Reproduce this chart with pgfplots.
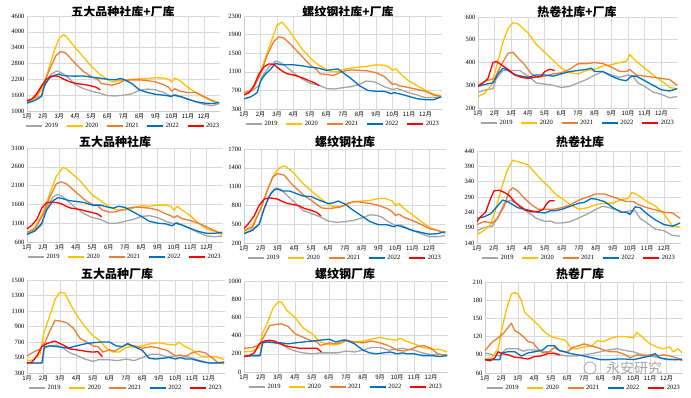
\documentclass[border=0pt]{standalone}
\usepackage{pgfplots}
\pgfplotsset{compat=1.18}
\usepackage{fontspec}
\setmainfont{Liberation Serif}
\newfontfamily\cjk{Noto Sans CJK SC}
\definecolor{c19}{HTML}{A5A5A5}
\definecolor{c20}{HTML}{FFC000}
\definecolor{c21}{HTML}{ED7D31}
\definecolor{c22}{HTML}{0070C0}
\definecolor{c23}{HTML}{FF0000}
\pgfplotsset{
  panel/.style={
    scale only axis, anchor=south west,
    xmin=1, xmax=13,
    xtick={1,...,12},
    xticklabels={1月,2月,3月,4月,5月,6月,7月,8月,9月,10月,11月,12月},
    xticklabel style={font=\cjk\fontsize{6}{7}\selectfont, yshift=1pt},
    yticklabel style={font=\fontsize{6.5}{7}\selectfont, xshift=1pt},
    /pgf/number format/assume math mode=true,
    /pgf/number format/1000 sep={},
    major tick length=0pt,
    grid=major,
    grid style={draw=black!15, line width=0.5pt},
    axis line style={draw=black!20},
    axis x line*=bottom, axis y line*=left,
    every axis plot/.append style={line width=1.3pt, line join=round, no marks},
    legend columns=5,
    legend style={at={(0.5,0)}, anchor=north, yshift=-10pt, draw=none, fill=none,
      font=\fontsize{6.5}{7}\selectfont, inner sep=0pt,
      /tikz/every even column/.append style={column sep=6pt}},
    legend image code/.code={\draw[##1, line width=1.3pt] (0pt,0pt) -- (16pt,0pt);},
  },
}
\begin{document}
\begin{tikzpicture}
\useasboundingbox (0pt,0pt) rectangle (691pt,398pt);
\tikzset{ttl/.style={font=\cjk\bfseries\fontsize{12}{14}\selectfont, inner sep=0pt}}
\node[ttl] at (123pt,386pt) {五大品种社库+厂库};
\node[ttl] at (348pt,386pt) {螺纹钢社库+厂库};
\node[ttl] at (577pt,386pt) {热卷社库+厂库};
\node[ttl] at (115pt,256pt) {五大品种社库};
\node[ttl] at (345pt,256pt) {螺纹钢社库};
\node[ttl] at (580pt,256pt) {热卷社库};
\node[ttl] at (117pt,124pt) {五大品种厂库};
\node[ttl] at (345pt,124pt) {螺纹钢厂库};
\node[ttl] at (580pt,124pt) {热卷厂库};

% ---------- P1 ----------
\begin{axis}[panel, at={(27pt,287pt)}, width=193pt, height=95pt, ymin=1000, ymax=4600, ytick={1000,1600,...,4600}]
\addplot[c19] coordinates {(1,1350)(1.5,1450)(1.9,1600)(2.1,1950)(2.5,2400)(2.87,2520)(3.2,2430)(3.6,2250)(4,2000)(4.5,1850)(5,1750)(5.5,1680)(6,1580)(6.5,1570)(7,1600)(7.5,1650)(8,1780)(8.5,1830)(9,1800)(9.5,1700)(9.9,1570)(10.2,1620)(10.6,1550)(11,1450)(11.5,1350)(12,1250)(12.5,1200)(12.95,1280)};
\addplot[c20] coordinates {(1,1300)(1.5,1450)(2,1900)(2.3,2500)(2.7,3300)(3,3750)(3.28,3900)(3.5,3780)(4,3400)(4.5,3050)(5,2700)(5.5,2400)(6,2200)(6.3,2100)(6.7,2150)(7,2180)(7.5,2200)(8,2220)(8.5,2230)(9,2260)(9.5,2250)(9.8,2200)(10,2100)(10.2,2250)(10.5,2150)(11,1900)(11.5,1700)(12,1520)(12.5,1380)(12.95,1300)};
\addplot[c21] coordinates {(1,1400)(1.5,1500)(2,2000)(2.5,2700)(2.8,3100)(3.1,3250)(3.4,3200)(3.7,3000)(4,2800)(4.5,2500)(5,2300)(5.4,2200)(5.6,2050)(6,2000)(6.3,1980)(6.7,2050)(7,2150)(7.5,2180)(8,2180)(8.5,2150)(9,2100)(9.5,2000)(9.8,1900)(10,1750)(10.2,1850)(10.5,1750)(11,1700)(11.5,1700)(12,1550)(12.5,1400)(12.95,1300)};
\addplot[c22] coordinates {(1,1300)(1.5,1400)(1.9,1550)(2.1,2000)(2.4,2250)(2.7,2350)(3,2400)(3.2,2350)(3.5,2330)(4,2320)(4.5,2330)(5,2280)(5.5,2250)(6,2200)(6.5,2180)(6.8,2230)(7,2200)(7.5,2050)(8,1800)(8.5,1700)(9,1630)(9.5,1600)(10,1550)(10.1,1600)(10.5,1550)(11,1450)(11.5,1350)(12,1300)(12.5,1280)(12.95,1320)};
\addplot[c23] coordinates {(1,1380)(1.3,1450)(1.6,1650)(1.9,1950)(2.2,2200)(2.5,2320)(2.8,2330)(3,2300)(3.3,2200)(3.6,2120)(4,2050)(4.3,2020)(4.6,2000)(5,1950)(5.3,1900)(5.56,1800)};
\legend{2019,2020,2021,2022,2023}
\end{axis}

% ---------- P2 ----------
\begin{axis}[panel, at={(244pt,289pt)}, width=198pt, height=93pt, ymin=300, ymax=2300, ytick={300,700,...,2300}]
\addplot[c19] coordinates {(1,600)(1.5,700)(1.9,800)(2.1,1000)(2.5,1200)(2.9,1330)(3.2,1300)(3.6,1200)(4,1080)(4.5,950)(5,850)(5.5,820)(6,740)(6.5,730)(7,760)(7.5,780)(8,830)(8.4,900)(8.8,890)(9,870)(9.5,780)(10,720)(10.3,740)(10.6,700)(11,650)(11.5,600)(12,540)(12.5,550)(12.95,560)};
\addplot[c20] coordinates {(1,600)(1.5,700)(2,1100)(2.3,1400)(2.7,1800)(3,2100)(3.3,2170)(3.6,2050)(4,1850)(4.5,1600)(5,1400)(5.5,1250)(6,1150)(6.3,1100)(6.7,1100)(7,1150)(7.5,1180)(8,1200)(8.5,1220)(9,1250)(9.5,1240)(9.8,1200)(10,1130)(10.2,1170)(10.5,1050)(11,900)(11.5,800)(12,700)(12.5,620)(12.95,580)};
\addplot[c21] coordinates {(1,650)(1.5,700)(2,1050)(2.4,1450)(2.8,1750)(3.1,1850)(3.4,1830)(3.8,1700)(4.2,1550)(4.6,1400)(5,1250)(5.4,1150)(5.6,1060)(6,1040)(6.4,1020)(6.8,1080)(7.2,1130)(7.6,1140)(8,1130)(8.5,1120)(9,1080)(9.5,1000)(9.8,900)(10,830)(10.2,840)(10.4,800)(11,760)(11.5,720)(12,680)(12.5,600)(12.95,570)};
\addplot[c22] coordinates {(1,520)(1.4,560)(1.8,650)(2,900)(2.3,1050)(2.6,1150)(2.9,1280)(3.3,1250)(4,1250)(4.5,1230)(5,1200)(5.5,1180)(6,1130)(6.4,1150)(6.7,1160)(7,1080)(7.5,950)(8,800)(8.5,700)(9,680)(9.5,680)(9.9,630)(10.1,650)(10.5,620)(11,570)(11.5,520)(12,500)(12.5,500)(12.95,560)};
\addplot[c23] coordinates {(1,600)(1.3,650)(1.6,800)(1.9,1050)(2.2,1200)(2.5,1270)(2.8,1260)(3,1200)(3.3,1120)(3.6,1060)(4,1030)(4.3,1000)(4.6,960)(5,900)(5.3,860)(5.55,800)};
\legend{2019,2020,2021,2022,2023}
\end{axis}

% ---------- P3 ----------
\begin{axis}[panel, at={(478pt,290pt)}, width=200pt, height=91pt, ymin=200, ymax=600, ytick={200,300,...,600}]
\addplot[c19] coordinates {(1,270)(1.5,280)(1.9,285)(2.1,330)(2.5,365)(3,365)(3.5,365)(4,340)(4.5,310)(5,305)(5.5,300)(6,290)(6.5,295)(7,310)(7.5,325)(8,345)(8.5,360)(9,345)(9.5,335)(10,345)(10.3,340)(10.6,310)(11,295)(11.5,270)(12,260)(12.5,245)(12.95,250)};
\addplot[c20] coordinates {(1,250)(1.4,265)(1.8,300)(2.1,380)(2.5,490)(2.8,550)(3.1,575)(3.4,570)(3.7,550)(4,530)(4.5,480)(5,445)(5.5,410)(6,375)(6.5,355)(7,350)(7.5,365)(8,370)(8.5,385)(9,390)(9.5,400)(9.9,405)(10.1,435)(10.5,405)(11,375)(11.5,345)(12,320)(12.5,290)(12.95,285)};
\addplot[c21] coordinates {(1,300)(1.5,320)(2,330)(2.4,390)(2.8,440)(3.1,445)(3.4,420)(3.8,390)(4.2,350)(4.6,335)(5,340)(5.5,350)(6,355)(6.5,370)(7,395)(7.5,395)(8,400)(8.5,395)(9,380)(9.5,360)(9.9,360)(10.1,370)(10.5,345)(11,340)(11.5,335)(12,330)(12.5,325)(12.95,300)};
\addplot[c22] coordinates {(1,295)(1.5,305)(1.9,310)(2.2,350)(2.5,375)(2.8,365)(3,355)(3.3,345)(3.6,340)(4,335)(4.5,345)(5,345)(5.5,340)(6,350)(6.5,360)(7,365)(7.5,370)(7.8,375)(8,360)(8.5,360)(9,340)(9.5,325)(9.9,320)(10.2,340)(10.5,340)(11,320)(11.5,300)(12,280)(12.5,275)(12.95,285)};
\addplot[c23] coordinates {(1,295)(1.3,310)(1.6,330)(1.9,400)(2.1,405)(2.4,390)(2.8,370)(3.2,345)(3.6,335)(4,330)(4.4,335)(4.8,340)(5,360)(5.3,370)(5.6,365)};
\legend{2019,2020,2021,2022,2023}
\end{axis}

% ---------- P4 ----------
\begin{axis}[panel, at={(27pt,156pt)}, width=196pt, height=94pt, ymin=600, ymax=3100, ytick={600,1100,...,3100}]
\addplot[c19] coordinates {(1,800)(1.5,900)(1.9,1050)(2.2,1500)(2.6,1800)(2.9,1870)(3.2,1800)(3.6,1650)(4,1500)(4.5,1350)(5,1250)(5.5,1200)(6,1100)(6.5,1100)(7,1150)(7.5,1200)(8,1280)(8.5,1300)(9,1250)(9.5,1150)(10,1080)(10.2,1120)(10.5,1050)(11,950)(11.5,850)(12,760)(12.5,740)(12.95,760)};
\addplot[c20] coordinates {(1,800)(1.5,1000)(2,1400)(2.4,1900)(2.8,2350)(3.2,2580)(3.4,2550)(3.8,2400)(4.2,2250)(4.6,2050)(5,1850)(5.5,1700)(6,1550)(6.5,1450)(7,1450)(7.5,1500)(8,1570)(8.5,1550)(9,1580)(9.5,1580)(9.8,1550)(10,1450)(10.2,1550)(10.5,1450)(11,1300)(11.5,1100)(12,950)(12.5,880)(12.95,800)};
\addplot[c21] coordinates {(1,850)(1.5,950)(2,1350)(2.4,1800)(2.8,2150)(3.1,2200)(3.4,2150)(3.8,2000)(4.2,1850)(4.6,1700)(5,1600)(5.3,1580)(5.6,1450)(6,1400)(6.4,1400)(6.8,1450)(7.2,1500)(7.6,1530)(8,1520)(8.5,1500)(9,1450)(9.5,1350)(9.8,1300)(10,1250)(10.2,1300)(10.5,1220)(11,1170)(11.5,1100)(12,1000)(12.5,900)(12.95,820)};
\addplot[c22] coordinates {(1,800)(1.5,900)(1.9,1100)(2.2,1450)(2.6,1700)(2.9,1780)(3.2,1750)(3.6,1700)(4,1680)(4.5,1650)(5,1580)(5.5,1580)(6,1520)(6.3,1500)(6.6,1550)(7,1520)(7.5,1400)(8,1280)(8.5,1150)(9,1100)(9.5,1080)(9.9,1030)(10.1,1100)(10.5,1050)(11,960)(11.5,880)(12,830)(12.5,830)(12.95,860)};
\addplot[c23] coordinates {(1,950)(1.3,1050)(1.6,1200)(1.9,1500)(2.2,1650)(2.5,1660)(2.8,1650)(3.1,1620)(3.4,1550)(3.7,1500)(4,1480)(4.3,1460)(4.6,1420)(5,1380)(5.3,1350)(5.57,1270)};
\legend{2019,2020,2021,2022,2023}
\end{axis}

% ---------- P5 ----------
\begin{axis}[panel, at={(244pt,155pt)}, width=202pt, height=94pt, ymin=200, ymax=1700, ytick={200,500,...,1700}]
\addplot[c19] coordinates {(1,350)(1.5,420)(1.9,500)(2.2,750)(2.6,1000)(2.9,1080)(3.2,1050)(3.6,950)(4,850)(4.5,720)(5,670)(5.5,620)(6,550)(6.5,530)(7,540)(7.5,560)(8,600)(8.5,650)(8.9,640)(9.2,610)(9.5,550)(10,480)(10.3,490)(10.6,450)(11,400)(11.5,350)(12,300)(12.5,300)(12.95,320)};
\addplot[c20] coordinates {(1,380)(1.5,480)(2,750)(2.4,1050)(2.8,1300)(3.1,1400)(3.4,1430)(3.7,1380)(4,1300)(4.5,1150)(5,1030)(5.5,920)(6,820)(6.3,780)(6.7,780)(7,800)(7.5,860)(8,870)(8.5,880)(9,910)(9.4,910)(9.8,870)(10,800)(10.2,830)(10.5,750)(11,650)(11.5,550)(12,450)(12.5,400)(12.95,360)};
\addplot[c21] coordinates {(1,400)(1.5,450)(2,750)(2.4,1050)(2.7,1250)(3,1310)(3.4,1280)(3.8,1150)(4.2,1050)(4.6,950)(5,880)(5.4,800)(5.6,760)(6,750)(6.4,760)(6.8,780)(7.2,840)(7.6,860)(8,850)(8.5,830)(9,800)(9.5,750)(9.8,700)(10,640)(10.2,660)(10.5,610)(11,560)(11.5,500)(12,430)(12.5,400)(12.95,360)};
\addplot[c22] coordinates {(1,350)(1.5,400)(1.9,500)(2.2,750)(2.5,950)(2.8,1050)(3,1060)(3.3,1030)(3.7,1030)(4,1000)(4.5,950)(5,940)(5.5,880)(6,830)(6.3,840)(6.6,870)(7,820)(7.5,720)(8,630)(8.5,540)(9,490)(9.5,490)(9.9,460)(10.1,480)(10.5,450)(11,400)(11.5,370)(12,340)(12.5,350)(12.95,380)};
\addplot[c23] coordinates {(1,430)(1.3,520)(1.6,630)(1.9,800)(2.2,900)(2.5,920)(2.8,910)(3,900)(3.3,860)(3.6,830)(4,810)(4.3,790)(4.6,750)(5,720)(5.3,690)(5.58,630)};
\legend{2019,2020,2021,2022,2023}
\end{axis}

% ---------- P6 ----------
\begin{axis}[panel, at={(477pt,155pt)}, width=204pt, height=92pt, ymin=140, ymax=440, ytick={140,190,...,440}]
\addplot[c19] coordinates {(1,180)(1.4,190)(1.9,195)(2.2,220)(2.6,270)(3,280)(3.3,270)(3.7,255)(4,240)(4.5,220)(5,210)(5.3,212)(5.6,205)(6,205)(6.5,210)(7,222)(7.5,235)(8,250)(8.4,260)(8.8,255)(9.2,248)(9.6,240)(10,245)(10.3,245)(10.6,220)(11,205)(11.5,185)(12,180)(12.5,165)(12.95,162)};
\addplot[c20] coordinates {(1,168)(1.4,180)(1.8,200)(2.1,250)(2.5,330)(2.8,380)(3.1,410)(3.4,405)(3.7,400)(4,395)(4.4,370)(4.8,345)(5.2,325)(5.6,300)(6,285)(6.5,265)(7,250)(7.5,255)(8,265)(8.5,270)(9,270)(9.5,282)(9.9,285)(10.1,305)(10.5,295)(11,275)(11.5,260)(12,235)(12.5,195)(12.95,192)};
\addplot[c21] coordinates {(1,200)(1.4,210)(1.9,205)(2.2,220)(2.6,260)(2.9,310)(3.1,320)(3.4,310)(3.8,285)(4.2,265)(4.6,250)(5,250)(5.5,250)(6,255)(6.5,265)(7,280)(7.5,290)(8,300)(8.5,300)(9,290)(9.5,280)(9.8,275)(10.2,275)(10.5,265)(11,255)(11.5,248)(12,240)(12.5,238)(12.95,220)};
\addplot[c22] coordinates {(1,220)(1.4,225)(1.8,235)(2.2,260)(2.5,280)(2.8,275)(3.1,265)(3.4,255)(3.8,250)(4.2,245)(4.6,240)(5,238)(5.3,245)(5.6,245)(6,250)(6.5,260)(7,270)(7.3,272)(7.7,285)(8,283)(8.5,275)(9,255)(9.5,240)(9.8,240)(10,233)(10.3,258)(10.6,255)(11,235)(11.5,215)(12,200)(12.5,195)(12.95,205)};
\addplot[c23] coordinates {(1,210)(1.2,225)(1.5,240)(1.8,285)(2,310)(2.3,312)(2.6,305)(2.9,295)(3.2,275)(3.5,260)(3.8,248)(4.2,242)(4.6,242)(4.9,250)(5.1,268)(5.3,278)(5.56,278)};
\legend{2019,2020,2021,2022,2023}
\end{axis}

% ---------- P7 ----------
\begin{axis}[panel, at={(27pt,25pt)}, width=198pt, height=93pt, ymin=300, ymax=1500, ytick={300,500,...,1500}]
\addplot[c19] coordinates {(1,430)(1.5,430)(1.95,430)(2.05,620)(2.4,650)(2.8,660)(3.2,620)(3.6,560)(4,530)(4.5,480)(5,450)(5.3,470)(5.6,470)(6,470)(6.5,460)(7,480)(7.5,460)(8,500)(8.5,540)(9,540)(9.5,510)(10,520)(10.3,530)(10.6,520)(11,490)(11.5,460)(12,430)(12.5,430)(12.95,440)};
\addplot[c20] coordinates {(1,460)(1.4,470)(1.8,550)(2,800)(2.4,1050)(2.7,1250)(3,1340)(3.3,1330)(3.6,1200)(4,1050)(4.5,900)(5,780)(5.4,720)(5.8,620)(6.2,570)(6.6,570)(7,630)(7.5,640)(8,650)(8.5,680)(9,690)(9.5,670)(10,660)(10.2,700)(10.5,650)(11,600)(11.5,520)(12,510)(12.5,510)(12.95,470)};
\addplot[c21] coordinates {(1,520)(1.4,570)(1.8,610)(2.1,700)(2.4,850)(2.7,980)(3,970)(3.4,950)(3.8,880)(4.2,750)(4.6,700)(5,650)(5.3,640)(5.6,570)(6,600)(6.3,580)(6.7,630)(7,670)(7.5,650)(8,620)(8.5,640)(9,620)(9.5,590)(10,520)(10.3,530)(10.6,510)(11,560)(11.4,580)(11.8,560)(12.2,500)(12.6,430)(12.95,420)};
\addplot[c22] coordinates {(1,430)(1.5,430)(1.9,430)(2.05,640)(2.4,650)(2.8,640)(3.2,630)(3.5,620)(3.8,640)(4.2,660)(4.6,680)(5,690)(5.5,700)(6,700)(6.4,650)(6.8,640)(7.1,680)(7.5,640)(8,590)(8.4,490)(8.8,480)(9.2,490)(9.6,500)(10,480)(10.3,500)(10.6,480)(11,480)(11.5,450)(12,430)(12.5,430)(12.95,440)};
\addplot[c23] coordinates {(1,430)(1.3,440)(1.6,520)(1.9,640)(2.2,680)(2.5,700)(2.7,710)(3,680)(3.3,650)(3.6,610)(4,600)(4.3,590)(4.7,575)(5,570)(5.3,575)(5.57,510)};
\legend{2019,2020,2021,2022,2023}
\end{axis}

% ---------- P8 ----------
\begin{axis}[panel, at={(244pt,26pt)}, width=204pt, height=91pt, ymin=0, ymax=1000, ytick={0,200,...,1000}]
\addplot[c19] coordinates {(1,180)(1.95,180)(2.05,330)(2.4,340)(2.8,330)(3.2,300)(3.6,260)(4,230)(4.5,210)(5,200)(5.5,210)(6,210)(6.5,210)(7,230)(7.5,220)(8,240)(8.5,270)(9,270)(9.5,240)(10,250)(10.3,260)(10.6,250)(11,240)(11.5,210)(12,190)(12.5,190)(12.95,190)};
\addplot[c20] coordinates {(1,220)(1.5,230)(1.9,270)(2.1,430)(2.4,550)(2.7,700)(3,770)(3.2,770)(3.5,680)(4,600)(4.5,480)(5,420)(5.5,330)(6,300)(6.5,300)(7,340)(7.5,330)(8,340)(8.5,360)(9,380)(9.5,360)(10,350)(10.2,370)(10.5,340)(11,310)(11.5,270)(12,250)(12.5,250)(12.95,220)};
\addplot[c21] coordinates {(1,260)(1.5,270)(1.9,300)(2.2,400)(2.5,510)(2.8,520)(3.2,530)(3.6,500)(4,420)(4.5,380)(5,340)(5.3,330)(5.5,290)(6,320)(6.4,310)(6.8,330)(7,350)(7.5,330)(8,320)(8.5,340)(9,320)(9.5,290)(10,240)(10.4,230)(10.8,250)(11.2,280)(11.6,290)(12,260)(12.4,200)(12.95,180)};
\addplot[c22] coordinates {(1,170)(1.5,180)(1.95,180)(2.1,320)(2.4,330)(2.8,320)(3.2,320)(3.6,310)(4,320)(4.5,330)(5,340)(5.5,350)(6,360)(6.4,330)(6.8,350)(7,350)(7.5,310)(8,240)(8.4,210)(8.8,200)(9.2,210)(9.6,220)(10,200)(10.3,210)(10.6,200)(11,200)(11.5,180)(12,180)(12.5,170)(12.95,180)};
\addplot[c23] coordinates {(1,170)(1.3,180)(1.6,210)(1.9,310)(2.2,340)(2.5,350)(2.8,340)(3,320)(3.3,300)(3.6,280)(4,270)(4.3,260)(4.7,260)(5,260)(5.3,260)(5.55,220)};
\legend{2019,2020,2021,2022,2023}
\end{axis}

% ---------- P9 ----------
\begin{axis}[panel, at={(485pt,25pt)}, width=198pt, height=91pt, ymin=60, ymax=210, ytick={60,90,...,210}]
\addplot[c19] coordinates {(1,93)(1.5,90)(1.9,88)(2.1,95)(2.3,100)(2.6,100)(3,100)(3.3,96)(3.6,98)(4,98)(4.5,95)(5,95)(5.5,90)(6,88)(6.5,88)(7,90)(7.5,92)(8,95)(8.5,98)(9,100)(9.5,97)(10,95)(10.3,92)(10.6,90)(11,88)(11.5,85)(12,82)(12.5,82)(12.95,82)};
\addplot[c20] coordinates {(1,83)(1.4,85)(1.8,100)(2,130)(2.3,165)(2.6,190)(2.8,193)(3,190)(3.2,180)(3.4,160)(3.8,150)(4.2,140)(4.6,128)(5,120)(5.4,117)(5.8,115)(6,110)(6.2,100)(6.6,100)(7,103)(7.5,105)(7.8,113)(8.2,112)(8.6,117)(9,120)(9.5,120)(10,118)(10.2,127)(10.5,120)(11,108)(11.5,102)(11.8,100)(12.2,103)(12.4,95)(12.7,100)(12.95,93)};
\addplot[c21] coordinates {(1,97)(1.4,110)(1.8,118)(2.1,125)(2.4,135)(2.6,142)(2.8,130)(3.1,125)(3.4,118)(3.6,112)(3.9,110)(4.2,100)(4.5,93)(4.9,95)(5.2,102)(5.5,97)(6,95)(6.3,102)(6.7,105)(7,108)(7.4,105)(7.8,102)(8.2,98)(8.6,95)(9,95)(9.5,90)(9.8,85)(10.2,90)(10.6,88)(11,90)(11.4,88)(11.8,90)(12.2,88)(12.6,85)(12.95,80)};
\addplot[c22] coordinates {(1,82)(1.5,82)(1.9,82)(2,93)(2.4,95)(2.8,95)(3.2,88)(3.6,93)(4,95)(4.5,98)(4.8,105)(5.2,105)(5.5,97)(5.8,95)(6.2,92)(6.6,90)(7,88)(7.5,85)(8,82)(8.5,82)(9,83)(9.5,83)(10,82)(10.5,85)(11,88)(11.3,92)(11.6,85)(12,83)(12.5,82)(12.95,83)};
\addplot[c23] coordinates {(1,82)(1.3,80)(1.6,85)(1.8,95)(2,92)(2.4,90)(2.8,86)(3.2,85)(3.6,83)(4,87)(4.4,88)(4.8,92)(5.2,92)(5.55,90)};
\legend{2019,2020,2021,2022,2023}
\end{axis}

\node[font=\cjk\fontsize{14}{16}\selectfont, text=black!35, inner sep=0pt] at (634pt,30pt) {永安研究};
\draw[black!35, line width=0.8pt] (590pt,30pt) circle (6pt);
\end{tikzpicture}
\end{document}
